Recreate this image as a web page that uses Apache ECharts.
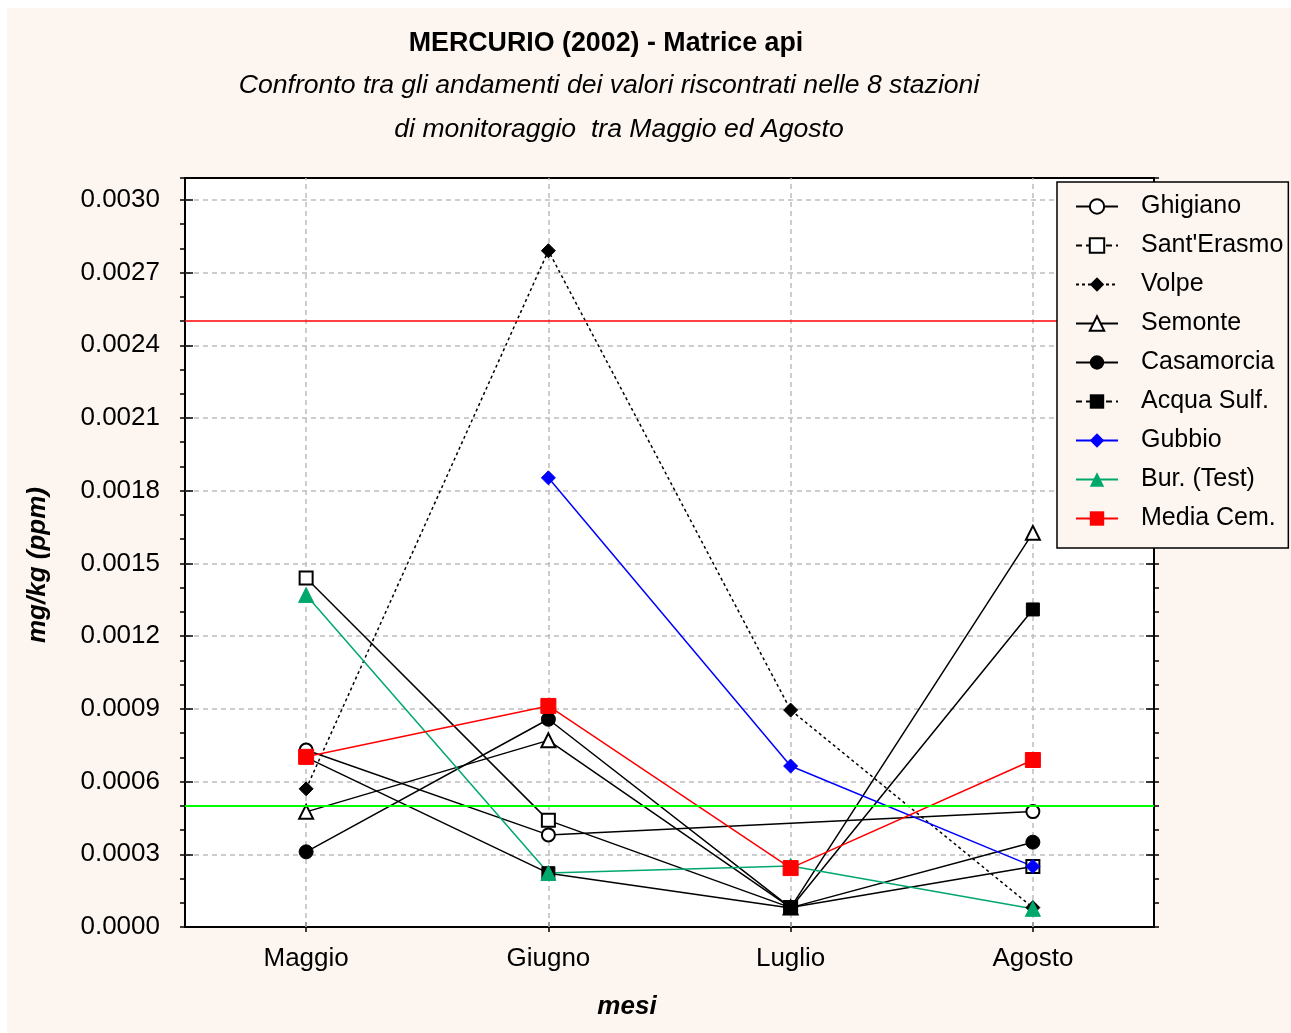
<!DOCTYPE html>
<html><head><meta charset="utf-8">
<script src="https://cdn.jsdelivr.net/npm/echarts@6/dist/echarts.min.js"></script>
<style>html,body{margin:0;padding:0;background:#fff}#c{width:1291px;height:1033px}</style>
</head><body><div id="c"></div>
<script>
// ---- data ----
const months = ['Maggio', 'Giugno', 'Luglio', 'Agosto'];
const ghigiano   = [0.00073, 0.00038, null,    0.000476];
const santErasmo = [0.00144, 0.00044, 0.00008, 0.00025];
const volpe      = [0.00057, 0.00279, 0.000895, 0.00008];
const semonte    = [0.000475, 0.00077, 0.00008, 0.001626];
const casamorcia = [0.00031, 0.000857, 0.00008, 0.00035];
const acquaSulf  = [0.00070, 0.000222, 0.000078, 0.00131];
const gubbio     = [null,    0.001853, 0.000664, 0.00025];
const burTest    = [0.00137, 0.000223, 0.000252, 0.000075];
const mediaCem   = [0.000702, 0.000912, 0.000243, 0.000689];
const limitRed = 0.0025;
const limitGreen = 0.0005;
const yMin = 0, yMax = 0.00309, yInterval = 0.0003;

const FONT = 'Liberation Sans, Arial, sans-serif';
const BLACK = '#000000';

function mk(name, data, color, symbol, size, lineType, extra) {
  return Object.assign({
    name, type: 'line', data, xAxisIndex: 0, yAxisIndex: 0,
    connectNulls: true, symbol, symbolSize: size, showSymbol: true,
    itemStyle: { color: color, borderColor: color },
    lineStyle: { color: color, width: 1.5, type: lineType },
    emphasis: { disabled: true }, silent: true, z: 2
  }, extra || {});
}

const series = [
  mk('Ghigiano', ghigiano, BLACK, 'emptyCircle', 13, 'solid', {
    markLine: {
      z: 1, silent: true, symbol: 'none', label: { show: false },
      lineStyle: { color: '#bdbdbd', type: [5, 4], width: 1.5 },
      emphasis: { disabled: true },
      data: months.map(m => ({ xAxis: m }))
    }
  }),
  mk("Sant'Erasmo", santErasmo, BLACK, 'emptyRect', 13, 'solid'),
  mk('Volpe', volpe, BLACK, 'diamond', 14, [3, 3]),
  mk('Semonte', semonte, BLACK, 'emptyTriangle', 14, 'solid'),
  mk('Casamorcia', casamorcia, BLACK, 'circle', 14, 'solid'),
  mk('Acqua Sulf.', acquaSulf, BLACK, 'rect', 13, 'solid'),
  mk('Gubbio', gubbio, '#0000ff', 'diamond', 14, 'solid'),
  mk('Bur. (Test)', burTest, '#00a86b', 'triangle', 15, 'solid'),
  mk('Media Cem.', mediaCem, '#ff0000', 'rect', 15, 'solid', {
    markLine: {
      z: 5, silent: true, symbol: 'none', label: { show: false }, precision: 8,
      emphasis: { disabled: true },
      data: [
        { yAxis: limitRed, lineStyle: { color: '#ff0000', width: 1.5, type: 'solid' } },
        { yAxis: limitGreen, lineStyle: { color: '#00ff00', width: 2, type: 'solid' } }
      ]
    }
  })
];

const yBase = { type: 'value', min: yMin, max: yMax, interval: yInterval };
const dashedLegend = { type: [6, 4] };

const option = {
  animation: false,
  backgroundColor: '#ffffff',
  textStyle: { fontFamily: FONT },
  graphic: [
    { type: 'rect', z: -10, shape: { x: 7, y: 8, width: 1291, height: 1033 }, style: { fill: '#fdf6f0' }, silent: true },
    { type: 'text', x: 606, y: 44, style: { text: 'MERCURIO (2002) - Matrice api', font: 'bold 26.8px ' + FONT, fill: '#000', align: 'center', verticalAlign: 'middle' } },
    { type: 'text', x: 609, y: 86, style: { text: 'Confronto tra gli andamenti dei valori riscontrati nelle 8 stazioni', font: 'italic 26.6px ' + FONT, fill: '#000', align: 'center', verticalAlign: 'middle' } },
    { type: 'text', x: 619, y: 130, style: { text: 'di monitoraggio  tra Maggio ed Agosto', font: 'italic 26.6px ' + FONT, fill: '#000', align: 'center', verticalAlign: 'middle' } },
    { type: 'text', x: 627, y: 1007, style: { text: 'mesi', font: 'italic bold 26px ' + FONT, fill: '#000', align: 'center', verticalAlign: 'middle' } },
    { type: 'text', x: 38, y: 565, rotation: Math.PI / 2, style: { text: 'mg/kg (ppm)', font: 'italic bold 26px ' + FONT, fill: '#000', align: 'center', verticalAlign: 'middle' } }
  ],
  grid: {
    left: 185, top: 178, right: 137, bottom: 106,
    show: true, backgroundColor: '#ffffff', borderColor: '#000', borderWidth: 2
  },
  legend: {
    orient: 'vertical', left: 1057, top: 182, z: 10,
    data: [
      { name: 'Ghigiano' },
      { name: "Sant'Erasmo", lineStyle: dashedLegend },
      { name: 'Volpe' },
      { name: 'Semonte' },
      { name: 'Casamorcia' },
      { name: 'Acqua Sulf.', lineStyle: dashedLegend },
      { name: 'Gubbio' },
      { name: 'Bur. (Test)' },
      { name: 'Media Cem.' }
    ],
    backgroundColor: '#fdf6f0', borderColor: '#000', borderWidth: 1.5, borderRadius: 0,
    padding: [12, 5, 17, 18], itemWidth: 42, itemHeight: 18, itemGap: 14,
    selectedMode: false,
    textStyle: { fontSize: 25, color: '#000', fontFamily: FONT, padding: [0, 0, 0, 18] }
  },
  xAxis: [
    {
      type: 'category', data: months, position: 'bottom', boundaryGap: true,
      axisLine: { show: false },
      axisTick: { show: true, inside: true, alignWithLabel: true, length: 5, lineStyle: { color: '#000', width: 1.5 } },
      axisLabel: { fontSize: 26, color: '#000', margin: 19, fontFamily: FONT },
      splitLine: { show: false }
    },
    {
      type: 'category', data: months, position: 'top', boundaryGap: true,
      axisLine: { show: false },
      axisTick: { show: true, inside: true, alignWithLabel: true, length: 5, lineStyle: { color: '#000', width: 1.5 } },
      axisLabel: { show: false }, splitLine: { show: false }
    }
  ],
  yAxis: [
    Object.assign({}, yBase, {
      position: 'left',
      axisLine: { show: false },
      axisTick: { show: true, inside: false, length: 5, lineStyle: { color: '#000', width: 1.5 } },
      minorTick: { show: true, splitNumber: 3, length: 5, lineStyle: { color: '#000', width: 1.5 } },
      axisLabel: { fontSize: 26, color: '#000', margin: 25, fontFamily: FONT, showMaxLabel: false,
        formatter: v => (Math.abs(v / yInterval - Math.round(v / yInterval)) < 1e-6 ? v.toFixed(4) : '') },
      splitLine: { show: true, showMaxLine: false, showMinLine: false, lineStyle: { color: '#bdbdbd', type: [5, 4], width: 1.5 } }
    }),
    Object.assign({}, yBase, {
      position: 'left',
      axisLine: { show: false },
      axisTick: { show: true, inside: true, length: 8, lineStyle: { color: '#000', width: 1.5 } },
      axisLabel: { show: false }, splitLine: { show: false }
    }),
    Object.assign({}, yBase, {
      position: 'right',
      axisLine: { show: false },
      axisTick: { show: true, inside: false, length: 5, lineStyle: { color: '#000', width: 1.5 } },
      minorTick: { show: true, splitNumber: 3, length: 5, lineStyle: { color: '#000', width: 1.5 } },
      axisLabel: { show: false }, splitLine: { show: false }
    }),
    Object.assign({}, yBase, {
      position: 'right',
      axisLine: { show: false },
      axisTick: { show: true, inside: true, length: 8, lineStyle: { color: '#000', width: 1.5 } },
      axisLabel: { show: false }, splitLine: { show: false }
    })
  ],
  series: series
};

const chart = echarts.init(document.getElementById('c'), null, { renderer: 'canvas' });
chart.setOption(option);
</script>
</body></html>
